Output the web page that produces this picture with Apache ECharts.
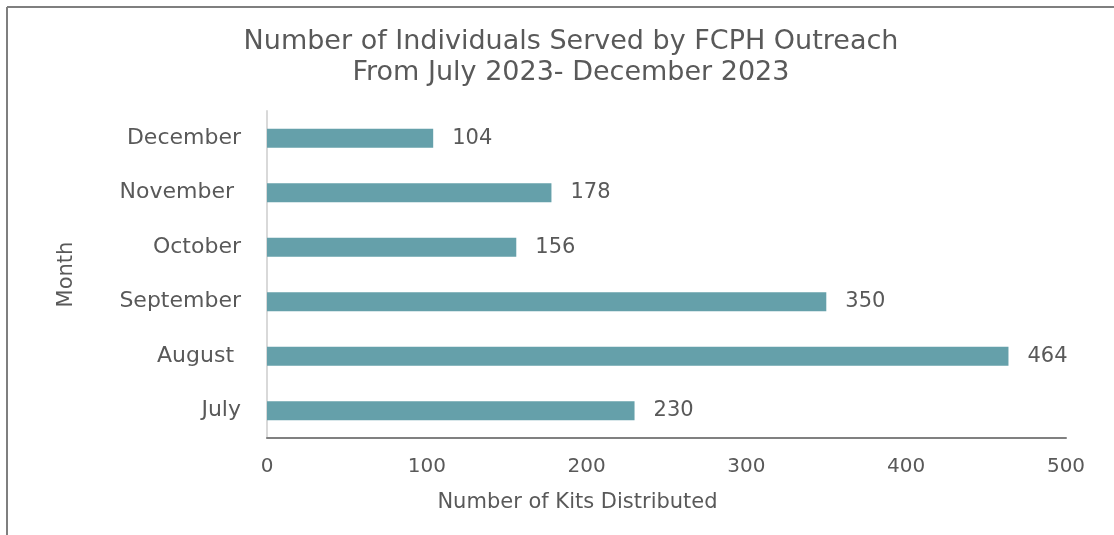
<!DOCTYPE html>
<html>
<head>
<meta charset="utf-8">
<script src="https://cdn.jsdelivr.net/npm/echarts@6/dist/echarts.min.js"></script>
<style>
  html, body { margin: 0; padding: 0; background: #fff; }
  #chart { width: 1114px; height: 535px; }
</style>
</head>
<body>
<div id="chart"></div>
<script>
// data (bottom to top)
const months = ["July", "August ", "September", "October", "November ", "December"];
const kits = [230, 464, 350, 156, 178, 104];
const xTicks = [0, 100, 200, 300, 400, 500];

const textGray = "#595959";
const font = "DejaVu Sans";

const chart = echarts.init(document.getElementById("chart"));

chart.setOption({
  animation: false,
  backgroundColor: "#fff",
  textStyle: { fontFamily: font },
  // frame of the chart area (left and top edges visible)
  graphic: [
    { type: "line", shape: { x1: 7, y1: 7, x2: 1114, y2: 7 }, style: { stroke: "#7f7f7f", lineWidth: 2 } },
    { type: "line", shape: { x1: 7, y1: 7, x2: 7, y2: 535 }, style: { stroke: "#7f7f7f", lineWidth: 2 } }
  ],
  title: {
    text: "Number of Individuals Served by FCPH Outreach\nFrom July 2023- December 2023",
    left: 566,
    top: 21,
    textAlign: "center",
    textStyle: {
      color: textGray,
      fontFamily: font,
      fontWeight: "normal",
      fontSize: 27,
      lineHeight: 31
    }
  },
  grid: {
    left: 267,
    right: 48,
    top: 111,
    bottom: 97
  },
  xAxis: {
    type: "value",
    min: xTicks[0],
    max: xTicks[xTicks.length - 1],
    interval: 100,
    name: "Number of Kits Distributed",
    nameLocation: "middle",
    nameGap: 54,
    nameTextStyle: { color: textGray, fontSize: 21, fontFamily: font, padding: [0, 178, 0, 0] },
    axisLine: { show: true, lineStyle: { color: "#808080", width: 2 } },
    axisTick: { show: false },
    splitLine: { show: false },
    axisLabel: { color: textGray, fontSize: 20, margin: 19, fontFamily: font }
  },
  yAxis: {
    type: "category",
    data: months,
    name: "Month",
    nameLocation: "middle",
    nameRotate: 90,
    nameGap: 190,
    nameTextStyle: { color: textGray, fontSize: 21, fontFamily: font },
    axisLine: { show: true, lineStyle: { color: "#d9d9d9", width: 2 } },
    axisTick: { show: false },
    axisLabel: { color: textGray, fontSize: 22, margin: 26, fontFamily: font }
  },
  series: [{
    type: "bar",
    data: kits,
    barWidth: 19,
    itemStyle: { color: "#65a0aa" },
    label: {
      show: true,
      position: "right",
      distance: 19,
      color: textGray,
      fontSize: 21,
      fontFamily: font
    }
  }]
});
</script>
</body>
</html>
